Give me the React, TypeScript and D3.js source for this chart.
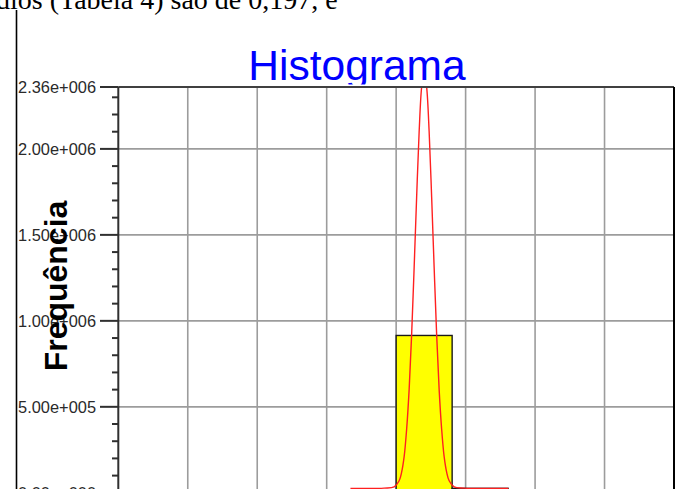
import React from "react";
import * as d3 from "d3";

const W = 686;
const H = 489;

// Histogram bins: [start, end, frequency]
const binStarts = [4.0, 4.806];
const binEnds = [4.806, 5.612];
const binCounts = [915000, 26000];

// Fitted curve points (x in grid units, y frequency)
const curveX = [3.342, 3.827, 3.971, 4.043, 4.079, 4.115, 4.151, 4.187, 4.223, 4.259, 4.295, 4.331, 4.367, 4.403,
  4.439, 4.475, 4.511, 4.547, 4.583, 4.619, 4.655, 4.691, 4.727, 4.763, 4.835, 4.979, 5.616];
const curveY = [26000, 27000, 34000, 70000, 120000, 210000, 370000, 600000, 920000, 1310000, 1720000, 2100000, 2360000, 2455000,
  2360000, 2100000, 1720000, 1310000, 920000, 600000, 370000, 210000, 120000, 70000, 34000, 27000, 26000];

const majorTicks = [0, 500000, 1000000, 1500000, 2000000, 2360000];
const gridX = [1, 2, 3, 4, 5, 6, 7];

const title = "Histograma";
const yTitle = "Frequência";
const topText = "dios (Tabela 4) são de 0,197, e";

function fmt(v: number): string {
  const s = v.toExponential(2);
  const [m, e] = s.split("e");
  const sign = e[0] === "-" ? "-" : "+";
  const digits = e.replace(/[+-]/, "").padStart(3, "0");
  return `${m}e${sign}${digits}`;
}

export default function App() {
  const left = 118.3;
  const right = 674;
  const top = 87;
  const bottom = 492.8;
  const x = d3.scaleLinear().domain([0, 8]).range([left, right]);
  const y = d3.scaleLinear().domain([0, 2360000]).range([bottom, top]);

  const minorTicks = d3.range(0, 2360000, 100000).filter((v) => !majorTicks.includes(v));

  const pts: [number, number][] = curveX.map((cx, i) => [cx, curveY[i]]);
  const line = d3
    .line<[number, number]>()
    .x((d) => x(d[0]))
    .y((d) => y(d[1]))
    .curve(d3.curveCatmullRom);

  return (
    <svg
      width={W}
      height={H}
      style={{ position: "absolute", left: 0, top: 0, background: "#fff" }}
    >
      <defs>
        <clipPath id="plotclip">
          <rect x={left} y={top} width={right - left} height={bottom - top + 20} />
        </clipPath>
      </defs>
      <rect x={0} y={0} width={W} height={H} fill="#fff" />
      <text x={-4} y={9} fontFamily="'Liberation Serif', 'Times New Roman', serif" fontSize={28} fill="#000">
        {topText}
      </text>
      <line x1={16.5} x2={16.5} y1={10} y2={H} stroke="#000" strokeWidth={1.6} />

      <text
        x={357}
        y={80}
        textAnchor="middle"
        fontFamily="'Liberation Sans', Arial, sans-serif"
        fontSize={42.5}
        fill="#0000ff"
      >
        {title}
      </text>

      {/* plot background */}
      <rect x={left} y={top - 2.5} width={right - left} height={bottom - top + 20} fill="#fff" />

      {/* grid */}
      {gridX.map((g) => (
        <line key={"gx" + g} x1={x(g)} x2={x(g)} y1={top} y2={H + 10} stroke="#9c9c9c" strokeWidth={1.6} />
      ))}
      {majorTicks
        .filter((v) => v > 0 && v < 2360000)
        .map((v) => (
          <line key={"gy" + v} x1={left} x2={right} y1={y(v)} y2={y(v)} stroke="#9c9c9c" strokeWidth={1.6} />
        ))}

      {/* bars */}
      {binCounts.map((c, i) => (
        <rect
          key={"b" + i}
          x={x(binStarts[i])}
          y={y(c)}
          width={x(binEnds[i]) - x(binStarts[i])}
          height={y(0) - y(c)}
          fill="#ffff00"
          stroke="#1a1a1a"
          strokeWidth={1.4}
        />
      ))}

      {/* fitted curve */}
      <path d={line(pts) || ""} fill="none" stroke="#ff2020" strokeWidth={1.4} clipPath="url(#plotclip)" />

      {/* frame */}
      <line x1={left} x2={right} y1={top} y2={top} stroke="#404040" strokeWidth={2} />
      <line x1={right} x2={right} y1={top} y2={H + 10} stroke="#000" strokeWidth={2} />
      <line x1={left} x2={left} y1={top} y2={H + 10} stroke="#303030" strokeWidth={2} />

      {/* y axis ticks */}
      {majorTicks.map((v) => (
        <g key={"t" + v}>
          <line x1={100} x2={left} y1={y(v)} y2={y(v)} stroke="#303030" strokeWidth={2} />
          <text
            x={96}
            y={y(v)}
            textAnchor="end"
            dominantBaseline="central"
            fontFamily="'Liberation Sans', Arial, sans-serif"
            fontSize={16.4}
            fill="#2a2a2a"
          >
            {fmt(v)}
          </text>
        </g>
      ))}
      {minorTicks.map((v) => (
        <line key={"m" + v} x1={112} x2={left} y1={y(v)} y2={y(v)} stroke="#303030" strokeWidth={2} />
      ))}

      <text
        transform={`translate(67,286) rotate(-90)`}
        textAnchor="middle"
        fontFamily="'Liberation Sans', Arial, sans-serif"
        fontWeight="bold"
        fontSize={32}
        fill="#000"
      >
        {yTitle}
      </text>
    </svg>
  );
}
